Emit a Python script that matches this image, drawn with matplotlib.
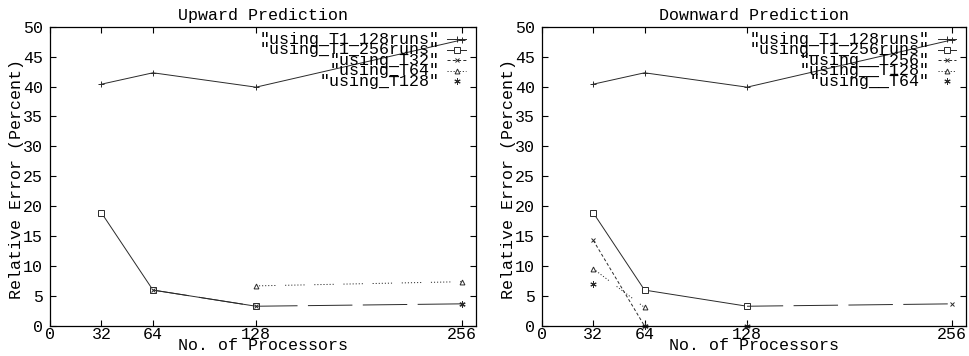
import matplotlib
matplotlib.use("Agg")
import matplotlib.pyplot as plt
import numpy as np

plt.rcParams['font.family'] = ['Liberation Mono', 'DejaVu Sans Mono']
plt.rcParams['font.size'] = 12
plt.rcParams['lines.scale_dashes'] = False

# data
procs = [32, 64, 128, 256]
xticks = [0, 32, 64, 128, 256]
yticks = list(range(0, 51, 5))

t1_128 = [40.4, 42.3, 39.9, 47.8]          # same in both panels
t1_256_x = [32, 64, 128]
t1_256 = [18.9, 6.0, 3.3]

# upward prediction
up_t32_x = [64, 128, 256]
up_t32 = [6.0, 3.3, 3.7]
up_t64_x = [128, 256]
up_t64 = [6.7, 7.4]
up_t128_x = [256]
up_t128 = [3.7]

# downward prediction
dn_t256_x = [32, 64]
dn_t256 = [14.3, 0.0]
dn_tail_x = [128, 256]
dn_tail = [3.3, 3.7]
dn_t128_x = [32, 64]
dn_t128 = [9.55, 3.1]
dn_t64_x = [32, 64, 128]
dn_t64 = [7.05, 0.0, 0.0]

up_labels = ['"using_T1_128runs"', '"using_T1_256runs"', '"using_T32"',
             '"using_T64"', '"using_T128"']
dn_labels = ['"using_T1_128runs"', '"using_T1_256runs"', '"using__T256"',
             '"using__T128"', '"using__T64"']

LC = '#2a2a2a'
LW = 0.7
dotted = (0, (0.8, 1.4) * 6 + (0.8, 7.0))
long_dash = (6, (32, 7.5))
short_dash = (0, (2.2, 1.6))
star = (6, 2, 0)

styles = [
    dict(ls='-', marker='+', ms=5),
    dict(ls='-', marker='s', ms=4, mfc='white'),
    dict(ls=short_dash, marker='x', ms=3.5),
    dict(ls=dotted, marker='^', ms=3.5, mfc='white'),
    dict(ls='none', marker=star, ms=4.5),
]

fig = plt.figure(figsize=(9.7, 3.56), dpi=100)
ax1 = fig.add_axes([0.0515, 0.0843, 0.4392, 0.8407])
ax2 = fig.add_axes([0.5588, 0.0843, 0.4371, 0.8407])


def common(ax, title):
    ax.set_xlim(0, 264.7)
    ax.set_ylim(0, 50)
    ax.set_xticks(xticks)
    ax.set_yticks(yticks)
    ax.tick_params(direction='in', top=True, right=True, length=4,
                   width=0.8, labelsize=12)
    ax.tick_params(axis='x', pad=1)
    ax.tick_params(axis='y', pad=5)
    for s in ax.spines.values():
        s.set_linewidth(0.9)
    ax.text(0.5, 1.037, title, transform=ax.transAxes, ha='center',
            va='center', fontsize=12)
    ax.text(0.5, -0.064, 'No. of Processors', transform=ax.transAxes,
            ha='center', va='center', fontsize=12)
    ax.text(-0.078, 0.49, 'Relative Error (Percent)', transform=ax.transAxes,
            ha='center', va='center', rotation=90, fontsize=12)


def key(ax, labels):
    rows = [0.958, 0.923, 0.888, 0.853, 0.818]
    for lab, y, st in zip(labels, rows, styles):
        ax.text(0.914, y, lab, transform=ax.transAxes, ha='right',
                va='center', fontsize=12)
        st2 = dict(st)
        mk = st2.pop('marker')
        ms = st2.pop('ms')
        mfc = st2.pop('mfc', LC)
        if st2['ls'] != 'none':
            ax.plot([0.933, 0.976], [y, y], transform=ax.transAxes,
                    color=LC, lw=LW, ls=st2['ls'], clip_on=False)
        ax.plot([0.9545], [y], transform=ax.transAxes, marker=mk, ms=ms,
                mfc=mfc, mec=LC, mew=0.7, ls='none', clip_on=False)


def series(ax, x, y, st, ls=None):
    st2 = dict(st)
    if ls is not None:
        st2['ls'] = ls
    mfc = st2.pop('mfc', LC)
    ax.plot(x, y, color=LC, lw=LW, mec=LC, mfc=mfc, mew=0.7,
            clip_on=False, **st2)


# upward
series(ax1, procs, t1_128, styles[0])
series(ax1, t1_256_x, t1_256, styles[1])
series(ax1, up_t32_x, up_t32, styles[2], ls=long_dash)
series(ax1, up_t64_x, up_t64, styles[3])
series(ax1, up_t128_x, up_t128, styles[4])
common(ax1, 'Upward Prediction')
key(ax1, up_labels)

# downward
series(ax2, procs, t1_128, styles[0])
series(ax2, t1_256_x, t1_256, styles[1])
series(ax2, dn_t256_x, dn_t256, styles[2])
series(ax2, dn_tail_x, dn_tail, dict(styles[2], marker='None'), ls=long_dash)
series(ax2, dn_tail_x[1:], dn_tail[1:], styles[2], ls='none')
series(ax2, dn_t128_x, dn_t128, styles[3])
series(ax2, dn_t64_x, dn_t64, styles[4])
common(ax2, 'Downward Prediction')
key(ax2, dn_labels)

fig.savefig('out.png', dpi=100)
